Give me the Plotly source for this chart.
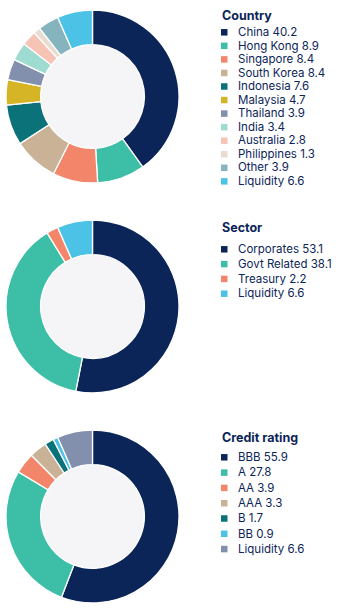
import plotly.graph_objects as go

W, H = 344, 611

country_title = "Country"
country_labels = ["China", "Hong Kong", "Singapore", "South Korea", "Indonesia", "Malaysia",
                  "Thailand", "India", "Australia", "Philippines", "Other", "Liquidity"]
country_values = [40.2, 8.9, 8.4, 8.4, 7.6, 4.7, 3.9, 3.4, 2.8, 1.3, 3.9, 6.6]
country_colors = ["#0b2559", "#3cbfa6", "#f3866a", "#c9b296", "#0b727a", "#d5b526",
                  "#8290ae", "#9edbd1", "#f7c3b5", "#e8ddd0", "#86b4be", "#4cc3e6"]

sector_title = "Sector"
sector_labels = ["Corporates", "Govt Related", "Treasury", "Liquidity"]
sector_values = [53.1, 38.1, 2.2, 6.6]
sector_colors = ["#0b2559", "#3cbfa6", "#f3866a", "#4cc3e6"]

credit_title = "Credit rating"
credit_labels = ["BBB", "A", "AA", "AAA", "B", "BB", "Liquidity"]
credit_values = [55.9, 27.8, 3.9, 3.3, 1.7, 0.9, 6.6]
credit_colors = ["#0b2559", "#3cbfa6", "#f3866a", "#c9b296", "#0b727a", "#4cc3e6", "#8290ae"]

TEXT = "#0b2559"
HOLE_BG = "#f5f5f7"
FONT = "Inter"

panels = [
    dict(title=country_title, labels=country_labels, values=country_values, colors=country_colors,
         cy=96.5, title_y=15.5, first_y=32.3, step=13.55),
    dict(title=sector_title, labels=sector_labels, values=sector_values, colors=sector_colors,
         cy=306.5, title_y=227.3, first_y=249.3, step=14.8),
    dict(title=credit_title, labels=credit_labels, values=credit_values, colors=credit_colors,
         cy=516.5, title_y=437.3, first_y=457.3, step=15.3),
]

CX, R, HOLE = 92.5, 86.5, 0.6

fig = go.Figure()
shapes = []
annotations = []

for p in panels:
    cy = p["cy"]
    fig.add_trace(go.Pie(
        labels=p["labels"], values=p["values"],
        marker=dict(colors=p["colors"], line=dict(color="white", width=1.3)),
        hole=HOLE, sort=False, direction="clockwise", rotation=0,
        textinfo="none", hoverinfo="label+value", showlegend=False,
        domain=dict(x=[(CX - R) / W, (CX + R) / W],
                    y=[1 - (cy + R) / H, 1 - (cy - R) / H]),
    ))
    ri = R * HOLE
    shapes.append(dict(type="circle", xref="paper", yref="paper", layer="below",
                       x0=(CX - ri) / W, x1=(CX + ri) / W,
                       y0=1 - (cy + ri) / H, y1=1 - (cy - ri) / H,
                       fillcolor=HOLE_BG, line=dict(width=0)))
    annotations.append(dict(text="<b>" + p["title"] + "</b>", xref="paper", yref="paper",
                            x=220 / W, y=1 - p["title_y"] / H, xanchor="left", yanchor="middle",
                            showarrow=False, font=dict(family=FONT, size=12.5, color=TEXT)))
    for i, (lab, val, col) in enumerate(zip(p["labels"], p["values"], p["colors"])):
        yc = p["first_y"] + i * p["step"]
        shapes.append(dict(type="rect", xref="paper", yref="paper", layer="above",
                           x0=221 / W, x1=227.5 / W,
                           y0=1 - (yc + 3.25) / H, y1=1 - (yc - 3.25) / H,
                           fillcolor=col, line=dict(width=0)))
        annotations.append(dict(text=f"{lab} {val:.1f}", xref="paper", yref="paper",
                                x=236 / W, y=1 - (yc - 0.3) / H, xanchor="left", yanchor="middle",
                                showarrow=False,
                                font=dict(family=FONT, size=11.5, color=TEXT)))

fig.update_layout(
    width=W, height=H,
    margin=dict(l=0, r=0, t=0, b=0),
    paper_bgcolor="white", plot_bgcolor="white",
    shapes=shapes, annotations=annotations,
    showlegend=False,
)

fig.write_html("out.html", config=dict(displayModeBar=False))
